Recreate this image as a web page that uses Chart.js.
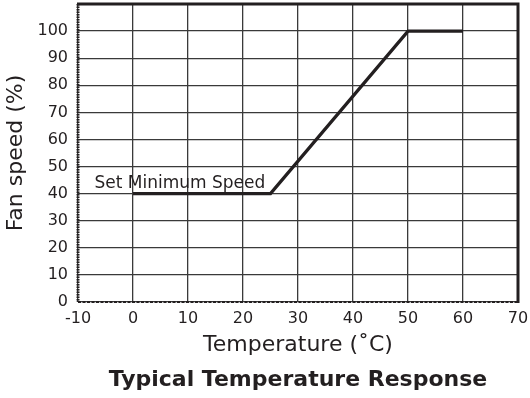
<!DOCTYPE html>
<html><head><meta charset="utf-8">
<script src="https://cdn.jsdelivr.net/npm/chart.js@4/dist/chart.umd.min.js"></script>
<style>html,body{margin:0;padding:0;background:#fff}#wrap{width:530px;height:398px}</style>
</head><body><div id="wrap"><canvas id="c" width="530" height="398"></canvas></div>
<script>
const temperatures = [0, 25, 50, 60];
const fanSpeeds = [40, 40, 100, 100];
const xTicks = [-10, 0, 10, 20, 30, 40, 50, 60, 70];
const yTicks = [0, 10, 20, 30, 40, 50, 60, 70, 80, 90, 100];
const annotationText = 'Set Minimum Speed';
const annotationAt = [-7, 40];

const FONT = "'DejaVu Sans', 'Liberation Sans', sans-serif";
const INK = '#231f20';

const framePlugin = {
  id: 'frame',
  afterDatasetsDraw(chart) {
    const {ctx, chartArea: a, scales} = chart;
    ctx.save();
    ctx.strokeStyle = INK;
    ctx.lineWidth = 3;
    ctx.setLineDash([]);
    ctx.beginPath();
    ctx.moveTo(a.left - 1, a.top);
    ctx.lineTo(a.right, a.top);
    ctx.lineTo(a.right, a.bottom + 1);
    ctx.stroke();
    ctx.lineWidth = 3;
    ctx.setLineDash([1.5, 1]);
    ctx.beginPath();
    ctx.moveTo(a.left, a.top);
    ctx.lineTo(a.left, a.bottom);
    ctx.stroke();
    ctx.lineWidth = 2.2;
    ctx.setLineDash([3, 1.5]);
    ctx.beginPath();
    ctx.moveTo(a.left, a.bottom);
    ctx.lineTo(a.right, a.bottom);
    ctx.stroke();
    ctx.setLineDash([]);
    ctx.fillStyle = INK;
    ctx.font = '17px ' + FONT;
    ctx.textAlign = 'left';
    ctx.textBaseline = 'alphabetic';
    ctx.fillText(annotationText, scales.x.getPixelForValue(annotationAt[0]), scales.y.getPixelForValue(annotationAt[1]) - 6);
    ctx.restore();
  }
};

new Chart(document.getElementById('c'), {
  type: 'scatter',
  data: {
    datasets: [{
      data: temperatures.map((t, i) => ({x: t, y: fanSpeeds[i]})),
      showLine: true,
      borderColor: INK,
      borderWidth: 3.3,
      pointRadius: 0,
      fill: false,
      tension: 0
    }]
  },
  options: {
    responsive: false,
    animation: false,
    layout: {padding: {top: 4, right: 12, left: 0, bottom: 0}},
    plugins: {
      legend: {display: false},
      tooltip: {enabled: false},
      title: {
        display: true,
        position: 'bottom',
        fullSize: false,
        text: 'Typical Temperature Response',
        color: INK,
        font: {family: FONT, size: 22, weight: 'bold'},
        padding: {top: 0, bottom: 5}
      }
    },
    scales: {
      x: {
        type: 'linear',
        min: -10, max: 70,
        afterBuildTicks: s => { s.ticks = xTicks.map(v => ({value: v})); },
        afterFit: s => { s.height = 64.6; s.paddingLeft = 0; s.paddingRight = 0; },
        ticks: {color: INK, font: {family: FONT, size: 16}, padding: 7, maxRotation: 0, autoSkip: false},
        grid: {color: '#3a3a3a', lineWidth: 1.3, drawTicks: false},
        border: {display: false},
        title: {display: true, text: 'Temperature (˚C)', color: INK, font: {family: FONT, size: 22}, padding: {top: 0, bottom: 8}}
      },
      y: {
        min: 0, max: 110,
        afterBuildTicks: s => { s.ticks = yTicks.concat([110]).map(v => ({value: v})); },
        afterFit: s => { s.width = 78; s.paddingTop = 0; s.paddingBottom = 0; },
        ticks: {color: INK, font: {family: FONT, size: 16}, padding: 10, autoSkip: false,
          callback: v => (yTicks.includes(v) ? String(v) : '')},
        grid: {color: '#3a3a3a', lineWidth: 1.3, drawTicks: false},
        border: {display: false},
        title: {display: true, text: 'Fan speed (%)', color: INK, font: {family: FONT, size: 22}, padding: {top: 3.5, bottom: 0}}
      }
    }
  },
  plugins: [framePlugin]
});
</script></body></html>
